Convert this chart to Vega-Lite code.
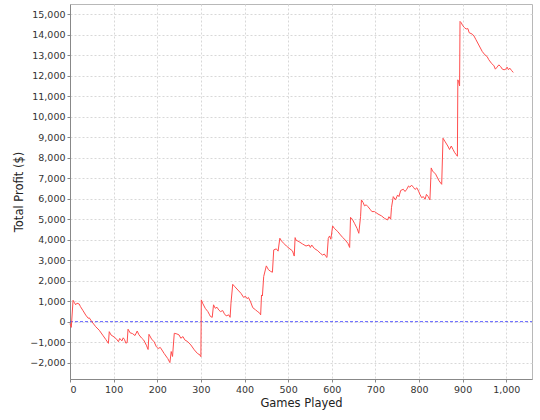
{
  "$schema": "https://vega.github.io/schema/vega-lite/v6.json",
  "width": 462,
  "height": 375,
  "autosize": {"type": "none"},
  "padding": {"left": 70, "top": 4, "right": 8, "bottom": 41},
  "background": "white",
  "config": {
    "view": {"stroke": "#b8b8b8", "strokeWidth": 1},
    "axis": {
      "labelFont": "DejaVu Sans",
      "labelFontSize": 9.5,
      "labelColor": "#333333",
      "titleFont": "DejaVu Sans",
      "titleFontSize": 11.5,
      "titleFontWeight": "normal",
      "titleColor": "#222222",
      "domainColor": "#888888",
      "tickColor": "#888888",
      "tickSize": 3,
      "labelPadding": 2,
      "grid": true,
      "gridColor": "#d8d8d8",
      "gridDash": [2, 2],
      "gridWidth": 1
    }
  },
  "data": {
    "values": [
      {"g": 0, "p": -100}, {"g": 3, "p": -280}, {"g": 7, "p": 1040}, {"g": 10, "p": 930},
      {"g": 13, "p": 820}, {"g": 16, "p": 900}, {"g": 21, "p": 860}, {"g": 24, "p": 730},
      {"g": 30, "p": 530}, {"g": 36, "p": 320}, {"g": 42, "p": 160}, {"g": 44, "p": 190},
      {"g": 50, "p": 0}, {"g": 59, "p": -250}, {"g": 67, "p": -420}, {"g": 75, "p": -660},
      {"g": 82, "p": -870}, {"g": 88, "p": -1060}, {"g": 90, "p": -490}, {"g": 94, "p": -650},
      {"g": 101, "p": -750}, {"g": 107, "p": -860}, {"g": 111, "p": -980}, {"g": 114, "p": -820},
      {"g": 119, "p": -940}, {"g": 122, "p": -790}, {"g": 125, "p": -880}, {"g": 128, "p": -1050},
      {"g": 131, "p": -1020}, {"g": 133, "p": -370}, {"g": 138, "p": -550}, {"g": 143, "p": -580},
      {"g": 149, "p": -680}, {"g": 154, "p": -460}, {"g": 158, "p": -640}, {"g": 164, "p": -800},
      {"g": 169, "p": -900}, {"g": 175, "p": -1150}, {"g": 179, "p": -1360}, {"g": 181, "p": -620},
      {"g": 187, "p": -850}, {"g": 193, "p": -990}, {"g": 198, "p": -1230}, {"g": 202, "p": -1310},
      {"g": 207, "p": -1260}, {"g": 216, "p": -1560}, {"g": 224, "p": -1800}, {"g": 229, "p": -2000},
      {"g": 232, "p": -1460}, {"g": 235, "p": -1700}, {"g": 239, "p": -570}, {"g": 245, "p": -600},
      {"g": 250, "p": -650}, {"g": 254, "p": -810}, {"g": 259, "p": -730}, {"g": 263, "p": -890},
      {"g": 270, "p": -980}, {"g": 277, "p": -1140}, {"g": 285, "p": -1380}, {"g": 292, "p": -1550},
      {"g": 298, "p": -1630}, {"g": 300, "p": -1710}, {"g": 301, "p": 1060}, {"g": 304, "p": 900},
      {"g": 310, "p": 650}, {"g": 316, "p": 490}, {"g": 320, "p": 330}, {"g": 322, "p": 250},
      {"g": 326, "p": 210}, {"g": 329, "p": 820}, {"g": 333, "p": 650}, {"g": 337, "p": 700},
      {"g": 341, "p": 570}, {"g": 345, "p": 490}, {"g": 350, "p": 540}, {"g": 354, "p": 380},
      {"g": 358, "p": 280}, {"g": 364, "p": 330}, {"g": 367, "p": 210}, {"g": 369, "p": 900},
      {"g": 373, "p": 1820}, {"g": 378, "p": 1700}, {"g": 385, "p": 1540}, {"g": 392, "p": 1380},
      {"g": 398, "p": 1180}, {"g": 402, "p": 1240}, {"g": 406, "p": 1120}, {"g": 409, "p": 1180},
      {"g": 414, "p": 960}, {"g": 419, "p": 680}, {"g": 425, "p": 580}, {"g": 429, "p": 510},
      {"g": 435, "p": 410}, {"g": 437, "p": 330}, {"g": 439, "p": 1300}, {"g": 441, "p": 1250},
      {"g": 444, "p": 2200}, {"g": 450, "p": 2720}, {"g": 455, "p": 2530}, {"g": 460, "p": 2450},
      {"g": 464, "p": 2410}, {"g": 467, "p": 3500}, {"g": 473, "p": 3550}, {"g": 477, "p": 3440},
      {"g": 481, "p": 4070}, {"g": 485, "p": 3930}, {"g": 490, "p": 3820}, {"g": 496, "p": 3690},
      {"g": 504, "p": 3550}, {"g": 510, "p": 3450}, {"g": 514, "p": 3200}, {"g": 516, "p": 4100},
      {"g": 518, "p": 3980}, {"g": 525, "p": 3900}, {"g": 533, "p": 3790}, {"g": 541, "p": 3690},
      {"g": 548, "p": 3740}, {"g": 551, "p": 3620}, {"g": 554, "p": 3740}, {"g": 560, "p": 3570},
      {"g": 568, "p": 3460}, {"g": 574, "p": 3330}, {"g": 579, "p": 3250}, {"g": 583, "p": 3300},
      {"g": 587, "p": 3170}, {"g": 589, "p": 3130}, {"g": 592, "p": 4060}, {"g": 595, "p": 4180},
      {"g": 598, "p": 4020}, {"g": 602, "p": 4670}, {"g": 606, "p": 4550}, {"g": 610, "p": 4470},
      {"g": 614, "p": 4390}, {"g": 620, "p": 4230}, {"g": 625, "p": 4110}, {"g": 631, "p": 3980},
      {"g": 637, "p": 3820}, {"g": 641, "p": 3620}, {"g": 643, "p": 5090}, {"g": 647, "p": 5000},
      {"g": 652, "p": 4800}, {"g": 658, "p": 4550}, {"g": 662, "p": 4310}, {"g": 666, "p": 5120},
      {"g": 668, "p": 5940}, {"g": 672, "p": 5810}, {"g": 675, "p": 5650}, {"g": 679, "p": 5700},
      {"g": 683, "p": 5610}, {"g": 688, "p": 5480}, {"g": 692, "p": 5370}, {"g": 698, "p": 5370},
      {"g": 706, "p": 5250}, {"g": 714, "p": 5160}, {"g": 721, "p": 5040}, {"g": 728, "p": 4960},
      {"g": 731, "p": 5120}, {"g": 735, "p": 5000}, {"g": 737, "p": 5580}, {"g": 741, "p": 6100},
      {"g": 746, "p": 5940}, {"g": 751, "p": 6180}, {"g": 754, "p": 6100}, {"g": 758, "p": 6400},
      {"g": 764, "p": 6460}, {"g": 768, "p": 6350}, {"g": 772, "p": 6460}, {"g": 776, "p": 6620},
      {"g": 779, "p": 6560}, {"g": 783, "p": 6660}, {"g": 787, "p": 6560}, {"g": 791, "p": 6450},
      {"g": 795, "p": 6530}, {"g": 799, "p": 6370}, {"g": 802, "p": 6210}, {"g": 806, "p": 6050},
      {"g": 810, "p": 6100}, {"g": 814, "p": 5970}, {"g": 817, "p": 6210}, {"g": 821, "p": 6100},
      {"g": 825, "p": 5940}, {"g": 828, "p": 7500}, {"g": 831, "p": 7350}, {"g": 838, "p": 7200},
      {"g": 846, "p": 6870}, {"g": 852, "p": 6700}, {"g": 855, "p": 8950}, {"g": 859, "p": 8810},
      {"g": 866, "p": 8570}, {"g": 870, "p": 8400}, {"g": 874, "p": 8570}, {"g": 878, "p": 8400},
      {"g": 882, "p": 8240}, {"g": 885, "p": 8160}, {"g": 888, "p": 8070}, {"g": 889, "p": 11800},
      {"g": 891, "p": 11700}, {"g": 893, "p": 11500}, {"g": 894, "p": 14650}, {"g": 897, "p": 14580},
      {"g": 900, "p": 14450}, {"g": 904, "p": 14350}, {"g": 908, "p": 14280}, {"g": 912, "p": 14300},
      {"g": 915, "p": 14100}, {"g": 922, "p": 14030}, {"g": 926, "p": 13940}, {"g": 930, "p": 13780},
      {"g": 937, "p": 13500}, {"g": 945, "p": 13180}, {"g": 951, "p": 13020}, {"g": 956, "p": 12940},
      {"g": 960, "p": 12780}, {"g": 966, "p": 12610}, {"g": 972, "p": 12480}, {"g": 975, "p": 12320},
      {"g": 979, "p": 12420}, {"g": 983, "p": 12530}, {"g": 987, "p": 12450}, {"g": 991, "p": 12320},
      {"g": 995, "p": 12290}, {"g": 999, "p": 12320}, {"g": 1002, "p": 12420}, {"g": 1005, "p": 12290},
      {"g": 1008, "p": 12370}, {"g": 1012, "p": 12260}, {"g": 1016, "p": 12160}
    ]
  },
  "encoding": {
    "x": {
      "field": "g",
      "type": "quantitative",
      "title": "Games Played",
      "scale": {"domain": [0, 1059], "nice": false, "zero": false},
      "axis": {"values": [0, 100, 200, 300, 400, 500, 600, 700, 800, 900, 1000], "format": ",d", "titlePadding": 4}
    },
    "y": {
      "field": "p",
      "type": "quantitative",
      "title": "Total Profit ($)",
      "scale": {"domain": [-2800, 15500], "nice": false, "zero": false},
      "axis": {"values": [-2000, -1000, 0, 1000, 2000, 3000, 4000, 5000, 6000, 7000, 8000, 9000, 10000, 11000, 12000, 13000, 14000, 15000], "format": ",d", "titlePadding": 5}
    }
  },
  "layer": [
    {
      "data": {"values": [{"zero": 0}]},
      "mark": {"type": "rule", "color": "#3c3cff", "strokeDash": [3, 2], "strokeWidth": 1, "opacity": 0.8},
      "encoding": {"y": {"field": "zero", "type": "quantitative"}, "x": {"value": 0}, "x2": {"value": 462}}
    },
    {
      "mark": {"type": "line", "color": "#ff4d4d", "strokeWidth": 1, "interpolate": "linear"}
    }
  ]
}
